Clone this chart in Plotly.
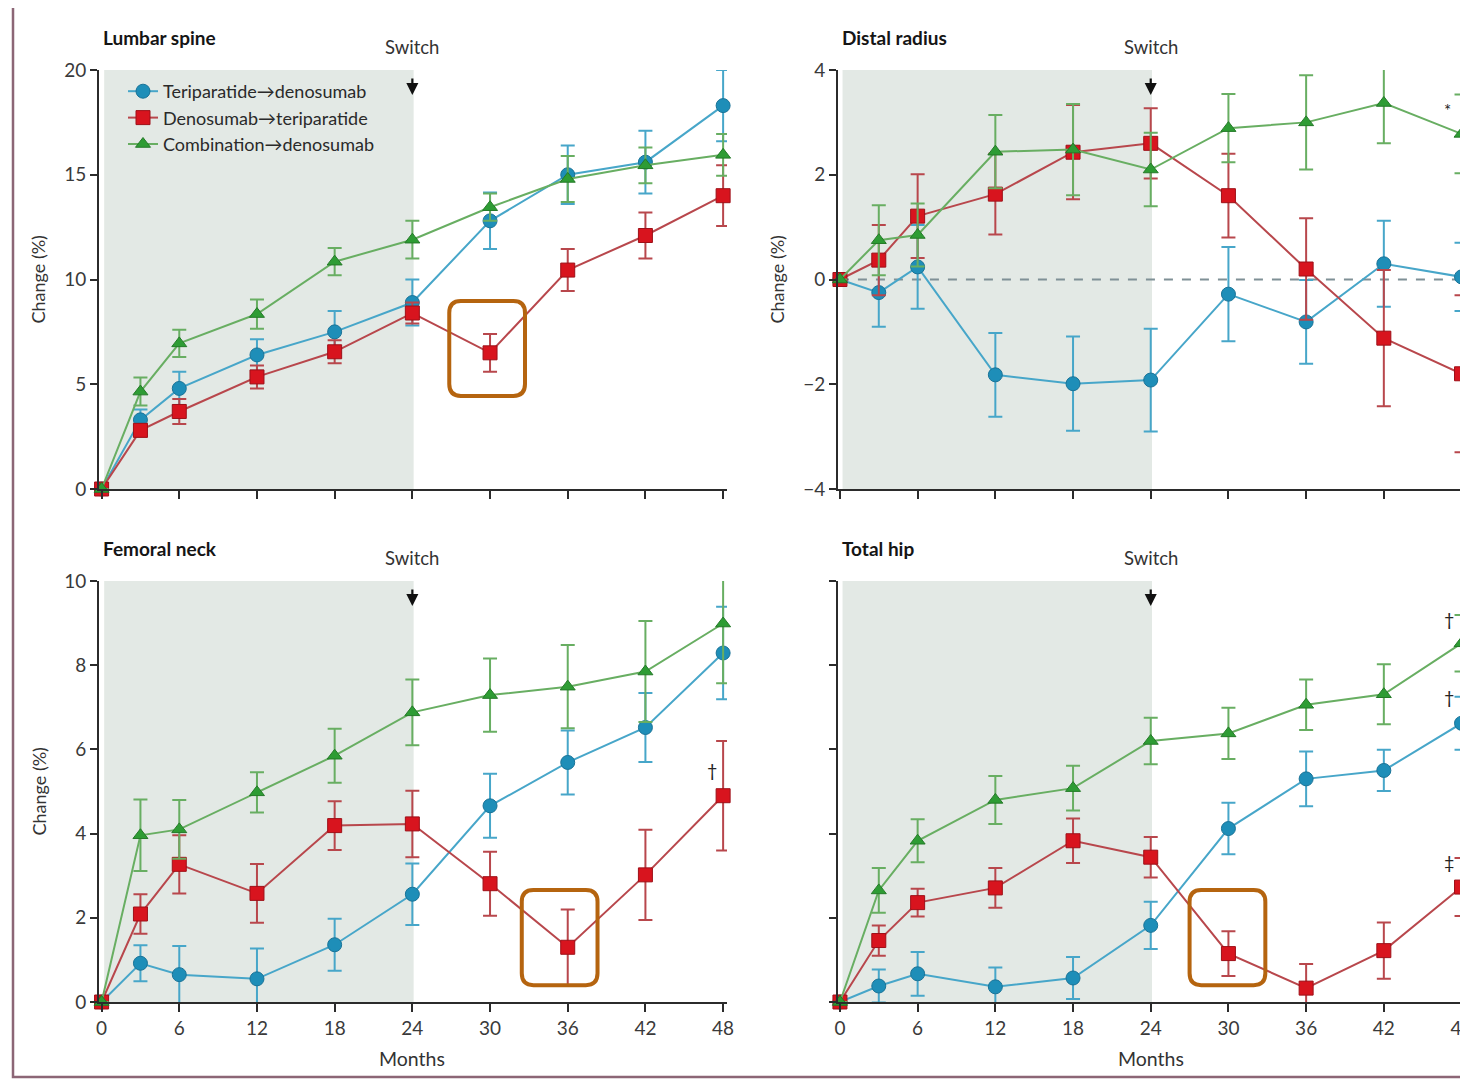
import plotly.graph_objects as go

# ---------------- data ----------------
months = [0, 3, 6, 12, 18, 24, 30, 36, 42, 48]
series_names = ["Teriparatide→denosumab", "Denosumab→teriparatide", "Combination→denosumab"]

# Lumbar spine
ls_tpd = [0, 3.3, 4.8, 6.4, 7.5, 8.9, 12.8, 15.0, 15.6, 18.3]
ls_tpd_err = [0, 0.5, 0.8, 0.75, 1.0, 1.1, 1.35, 1.4, 1.5, 1.7]
ls_dtp = [0, 2.8, 3.7, 5.35, 6.55, 8.4, 6.5, 10.45, 12.1, 14.0]
ls_dtp_err = [0, 0.3, 0.6, 0.55, 0.55, 0.5, 0.9, 1.0, 1.1, 1.45]
ls_cmb = [0, 4.65, 6.95, 8.35, 10.85, 11.9, 13.45, 14.8, 15.45, 15.95]
ls_cmb_err = [0, 0.67, 0.65, 0.7, 0.65, 0.9, 0.65, 1.1, 0.85, 1.0]

# Distal radius
dr_tpd = [0, -0.25, 0.24, -1.82, -1.99, -1.92, -0.28, -0.81, 0.3, 0.05]
dr_tpd_err = [0, 0.65, 0.8, 0.8, 0.9, 0.98, 0.9, 0.8, 0.82, 0.65]
dr_dtp = [0, 0.37, 1.21, 1.63, 2.43, 2.6, 1.6, 0.2, -1.12, -1.8]
dr_dtp_err = [0, 0.67, 0.8, 0.77, 0.9, 0.67, 0.8, 0.97, 1.3, 1.5]
dr_cmb = [0, 0.75, 0.85, 2.44, 2.48, 2.1, 2.89, 3.0, 3.37, 2.78]
dr_cmb_err = [0, 0.67, 0.6, 0.7, 0.87, 0.7, 0.65, 0.9, 0.77, 0.75]

# Femoral neck
fn_tpd = [0, 0.92, 0.65, 0.55, 1.36, 2.56, 4.66, 5.69, 6.52, 8.29]
fn_tpd_err = [0, 0.43, 0.68, 0.72, 0.62, 0.73, 0.76, 0.76, 0.82, 1.1]
fn_dtp = [0, 2.09, 3.27, 2.58, 4.19, 4.23, 2.81, 1.3, 3.02, 4.9]
fn_dtp_err = [0, 0.47, 0.69, 0.7, 0.58, 0.79, 0.76, 0.9, 1.07, 1.3]
fn_cmb = [0, 3.96, 4.1, 4.98, 5.85, 6.88, 7.29, 7.49, 7.85, 8.99]
fn_cmb_err = [0, 0.85, 0.7, 0.48, 0.64, 0.78, 0.87, 0.99, 1.2, 1.42]

# Total hip
th_tpd = [0, 0.38, 0.67, 0.36, 0.57, 1.82, 4.12, 5.3, 5.5, 6.62]
th_tpd_err = [0, 0.39, 0.52, 0.46, 0.5, 0.56, 0.61, 0.65, 0.49, 0.63]
th_dtp = [0, 1.46, 2.36, 2.71, 3.83, 3.44, 1.15, 0.33, 1.22, 2.73]
th_dtp_err = [0, 0.36, 0.33, 0.47, 0.53, 0.48, 0.53, 0.57, 0.67, 0.69]
th_cmb = [0, 2.65, 3.83, 4.8, 5.08, 6.2, 6.38, 7.06, 7.31, 8.52]
th_cmb_err = [0, 0.53, 0.51, 0.57, 0.53, 0.55, 0.61, 0.6, 0.71, 0.67]

panel_titles = ["Lumbar spine", "Distal radius", "Femoral neck", "Total hip"]
x_ticks = [0, 6, 12, 18, 24, 30, 36, 42, 48]
switch_month = 24

# ---------------- style ----------------
OFF = 8                      # page body margin
W, H = 1468 - OFF, 1080 - OFF
FONT = "Lato, 'Open Sans', sans-serif"
line_cols = ["#47A6C9", "#B8474C", "#68AE62"]
mark_cols = ["#1E8EB8", "#D8141E", "#2E9C34"]
edge_cols = ["#1A7397", "#9E1018", "#247A28"]
symbols = ["circle", "square", "triangle-up"]
sizes = [14, 14, 13]
AX = "#2b2b2b"
SHADE = "#E3E9E5"
BOX = "#B5640F"


def px_x(p):
    return (p - OFF) / W


def px_y(p):
    return 1 - (p - OFF) / H


left_dom = [px_x(99), px_x(727)]
right_dom = [px_x(838), 1.0]
top_dom = [px_y(489), px_y(70)]
bot_dom = [px_y(1002), px_y(581)]

panels = [
    dict(xd=left_dom, yd=top_dom, xr=[-0.2, 48.3], yr=[0, 20], yt=[0, 5, 10, 15, 20], ylab=True, xlab=False,
         data=[(ls_tpd, ls_tpd_err), (ls_dtp, ls_dtp_err), (ls_cmb, ls_cmb_err)]),
    dict(xd=right_dom, yd=top_dom, xr=[-0.15, 48.5], yr=[-4, 4], yt=[-4, -2, 0, 2, 4], ylab=True, xlab=False,
         data=[(dr_tpd, dr_tpd_err), (dr_dtp, dr_dtp_err), (dr_cmb, dr_cmb_err)]),
    dict(xd=left_dom, yd=bot_dom, xr=[-0.2, 48.3], yr=[0, 10], yt=[0, 2, 4, 6, 8, 10], ylab=True, xlab=True,
         data=[(fn_tpd, fn_tpd_err), (fn_dtp, fn_dtp_err), (fn_cmb, fn_cmb_err)]),
    dict(xd=right_dom, yd=bot_dom, xr=[-0.15, 48.5], yr=[0, 10], yt=[0, 2, 4, 6, 8, 10], ylab=False, xlab=True,
         data=[(th_tpd, th_tpd_err), (th_dtp, th_dtp_err), (th_cmb, th_cmb_err)]),
]

fig = go.Figure()
layout = dict(width=W, height=H, margin=dict(l=0, r=0, t=0, b=0, pad=0), autosize=False,
              paper_bgcolor="white", plot_bgcolor="rgba(0,0,0,0)",
              font=dict(family=FONT, color="#333", size=16),
              showlegend=True)
shapes = []
annotations = []

for i, p in enumerate(panels):
    n = i + 1
    xa = "xaxis" if n == 1 else f"xaxis{n}"
    ya = "yaxis" if n == 1 else f"yaxis{n}"
    xref = "x" if n == 1 else f"x{n}"
    yref = "y" if n == 1 else f"y{n}"
    layout[xa] = dict(domain=p["xd"], range=p["xr"], anchor=yref, tickvals=x_ticks, automargin=False,
                      showticklabels=p["xlab"], ticks="outside", ticklen=8, tickwidth=2, tickcolor=AX,
                      ticklabeloverflow="allow",
                      showline=True, linecolor=AX, linewidth=2, showgrid=False, zeroline=False,
                      tickfont=dict(size=19, color="#3a3a3a"), fixedrange=True)
    layout[ya] = dict(domain=p["yd"], range=p["yr"], anchor=xref, tickvals=p["yt"], automargin=False,
                      showticklabels=p["ylab"], ticks="outside", ticklen=7, tickwidth=2, tickcolor=AX,
                      ticklabeloverflow="allow",
                      showline=True, linecolor=AX, linewidth=2, showgrid=False, zeroline=False,
                      tickfont=dict(size=19, color="#3a3a3a"), fixedrange=True)
    # shaded treatment period
    shapes.append(dict(type="rect", xref=xref, yref=yref, x0=0.2, x1=switch_month + 0.1,
                       y0=p["yr"][0], y1=p["yr"][1], fillcolor=SHADE, line=dict(width=0), layer="below"))
    if i == 1:
        shapes.append(dict(type="line", xref=xref, yref=yref, x0=0, x1=48.5, y0=0, y1=0,
                           line=dict(color="#7f9096", width=2, dash="dash"), layer="below"))
    # traces
    for k in range(3):
        vals, errs = p["data"][k]
        fig.add_trace(go.Scatter(
            x=months, y=vals, xaxis=xref, yaxis=yref, mode="lines+markers",
            name=series_names[k], legendgroup=series_names[k], showlegend=(i == 0), legendrank=k + 1,
            line=dict(color=line_cols[k], width=2),
            marker=dict(symbol=symbols[k], size=sizes[k], color=mark_cols[k],
                        line=dict(color=edge_cols[k], width=1)),
            error_y=dict(type="data", array=errs, color=line_cols[k], thickness=2, width=7),
            cliponaxis=False,
        ))
    # title
    tx = p["xd"][0] + 2 / W
    ty = p["yd"][1] + 33 / H
    annotations.append(dict(text=f"<b>{panel_titles[i]}</b>", x=tx, y=ty, xref="paper", yref="paper",
                            xanchor="left", yanchor="middle", showarrow=False,
                            font=dict(size=19, color="#151515")))
    # Switch label and arrow
    annotations.append(dict(text="Switch", x=switch_month, y=p["yd"][1] + 23 / H, xref=xref, yref="paper",
                            xanchor="center", yanchor="middle", showarrow=False,
                            font=dict(size=18.5, color="#333")))
    annotations.append(dict(text="", x=switch_month, y=p["yd"][1] - 25 / H, xref=xref, yref="paper",
                            ax=0, ay=-18, axref="pixel", ayref="pixel", showarrow=True,
                            arrowhead=2, arrowsize=1.1, arrowwidth=2.2, arrowcolor="#111"))
    # y-axis title
    if p["ylab"]:
        annotations.append(dict(text="Change (%)", textangle=-90,
                                x=p["xd"][0] - 61 / W, y=(p["yd"][0] + p["yd"][1]) / 2,
                                xref="paper", yref="paper", xanchor="center", yanchor="middle",
                                showarrow=False, font=dict(size=18, color="#333")))
    if p["xlab"]:
        annotations.append(dict(text="Months", x=24, y=px_y(1058), xref=xref, yref="paper",
                                xanchor="center", yanchor="middle", showarrow=False,
                                font=dict(size=19.5, color="#333")))

# significance marks at 48 months
annotations.append(dict(text="*", x=48, y=dr_cmb[-1] + dr_cmb_err[-1] - 0.3, xref="x2", yref="y2",
                        xshift=-14, showarrow=False, font=dict(size=17, color="#222")))
annotations.append(dict(text="†", x=48, y=fn_dtp[-1] + fn_dtp_err[-1] - 0.7, xref="x3", yref="y3",
                        xshift=-11, showarrow=False, font=dict(size=18, color="#222")))
annotations.append(dict(text="†", x=48, y=th_cmb[-1] + th_cmb_err[-1] - 0.1, xref="x4", yref="y4",
                        xshift=-13, showarrow=False, font=dict(size=18, color="#222")))
annotations.append(dict(text="†", x=48, y=th_tpd[-1] + th_tpd_err[-1] - 0.0, xref="x4", yref="y4",
                        xshift=-13, showarrow=False, font=dict(size=18, color="#222")))
annotations.append(dict(text="‡", x=48, y=th_dtp[-1] + th_dtp_err[-1] - 0.1, xref="x4", yref="y4",
                        xshift=-13, showarrow=False, font=dict(size=18, color="#222")))


# highlight boxes (rounded rectangles) around selected points
def rounded(x0, x1, y0, y1, rx, ry):
    return (f"M {x0 + rx},{y1} L {x1 - rx},{y1} Q {x1},{y1} {x1},{y1 - ry} "
            f"L {x1},{y0 + ry} Q {x1},{y0} {x1 - rx},{y0} L {x0 + rx},{y0} "
            f"Q {x0},{y0} {x0},{y0 + ry} L {x0},{y1 - ry} Q {x0},{y1} {x0 + rx},{y1} Z")


highlight = [("x", "y", 26.85, 32.7, 4.44, 8.97, 0.57),
             ("x3", "y3", 32.45, 38.3, 0.40, 2.66, 0.28),
             ("x4", "y4", 27.0, 32.85, 0.40, 2.66, 0.28)]
for xr_, yr_, a, b, c, d, ry in highlight:
    shapes.append(dict(type="path", xref=xr_, yref=yr_, path=rounded(a, b, c, d, 0.9, ry),
                       line=dict(color=BOX, width=4), fillcolor="rgba(0,0,0,0)", layer="above"))

# outer frame
shapes.append(dict(type="rect", xref="paper", yref="paper", x0=px_x(13), x1=1.02, y0=px_y(1077), y1=px_y(5),
                   line=dict(color="#8C6676", width=2.5), fillcolor="rgba(0,0,0,0)", layer="below"))

layout["shapes"] = shapes
layout["annotations"] = annotations
layout["legend"] = dict(x=px_x(123), y=px_y(73), xanchor="left", yanchor="top",
                        bgcolor="rgba(0,0,0,0)", font=dict(size=18, color="#2a2a2a"),
                        itemclick=False, itemdoubleclick=False, tracegroupgap=0)
fig.update_layout(**layout)

fig.write_html("out.html")
